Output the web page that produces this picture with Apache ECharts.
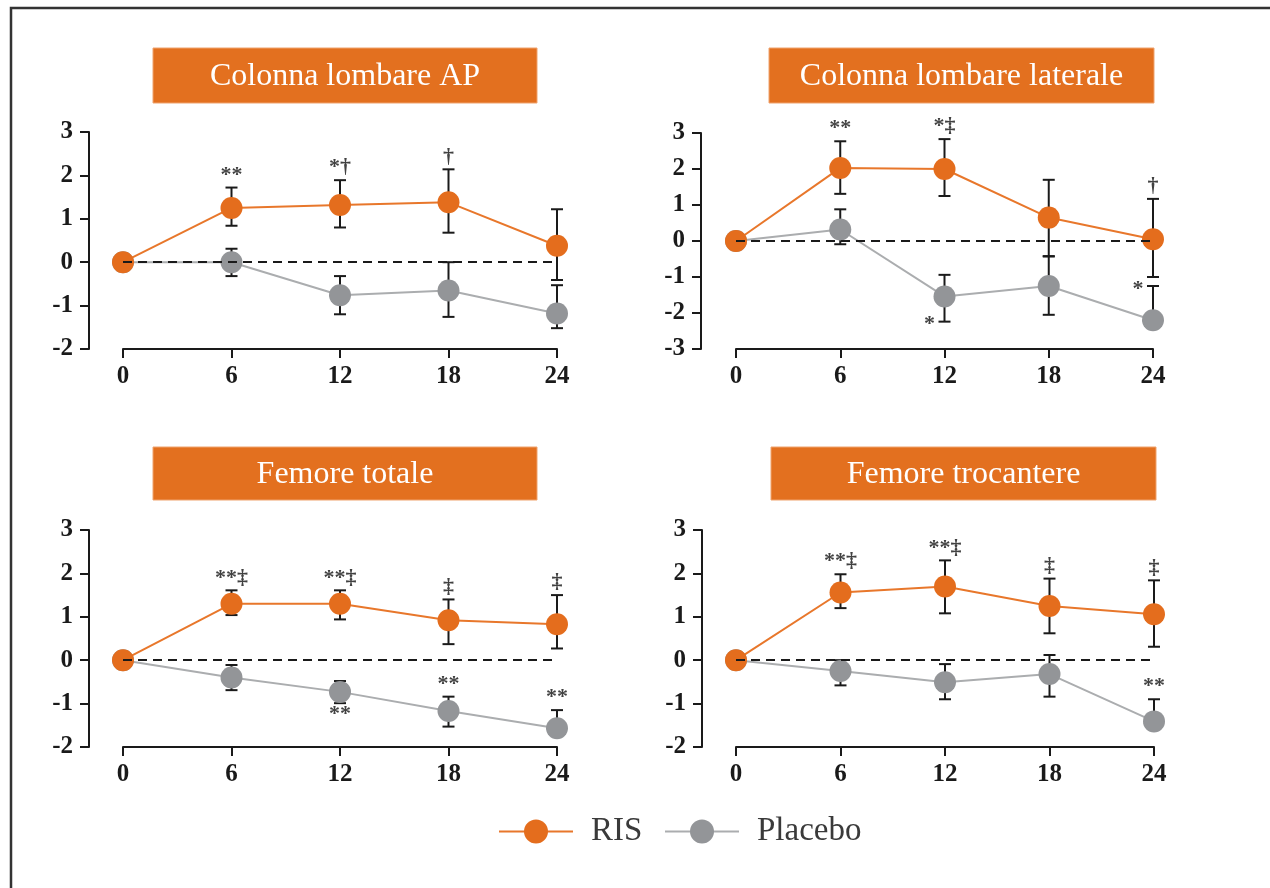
<!DOCTYPE html>
<html><head><meta charset="utf-8">
<script src="https://cdn.jsdelivr.net/npm/echarts@6/dist/echarts.min.js"></script>
<style>html,body{margin:0;padding:0;background:#fff}#c{width:1270px;height:888px}</style>
</head><body><div id="c"></div>
<script>
// ---------------- data ----------------
const months = [0, 6, 12, 18, 24];
const panelTitles = ['Colonna lombare AP', 'Colonna lombare laterale', 'Femore totale', 'Femore trocantere'];
const seriesNames = ['RIS', 'Placebo'];
const yMins = [-2, -3, -2, -2];
const yMaxs = [3, 3, 3, 3];

// Panel 1 – Colonna lombare AP
const p1RisMean = [0, 1.25, 1.32, 1.38, 0.38];
const p1RisHigh = [null, 1.72, 1.89, 2.14, 1.22];
const p1RisLow  = [null, 0.84, 0.80, 0.68, -0.41];
const p1PlaMean = [0, 0.0, -0.76, -0.65, -1.18];
const p1PlaHigh = [null, 0.31, -0.32, 0.0, -0.53];
const p1PlaLow  = [null, -0.32, -1.20, -1.26, -1.52];
const p1Notes = [['RIS', 1, 'top', '**'], ['RIS', 2, 'top', '*†'], ['RIS', 3, 'top', '†']];

// Panel 2 – Colonna lombare laterale
const p2RisMean = [0, 2.03, 2.0, 0.65, 0.05];
const p2RisHigh = [null, 2.77, 2.83, 1.70, 1.17];
const p2RisLow  = [null, 1.31, 1.25, -0.42, -1.0];
const p2PlaMean = [0, 0.32, -1.54, -1.25, -2.2];
const p2PlaHigh = [null, 0.88, -0.94, -0.43, -1.25];
const p2PlaLow  = [null, -0.09, -2.24, -2.05, -2.2];
const p2Notes = [['RIS', 1, 'top', '**'], ['RIS', 2, 'top', '*‡'], ['RIS', 4, 'top', '†'],
                 ['Placebo', 2, 'lowLeft', '*'], ['Placebo', 4, 'highLeft', '*']];

// Panel 3 – Femore totale
const p3RisMean = [0, 1.30, 1.30, 0.92, 0.83];
const p3RisHigh = [null, 1.61, 1.61, 1.40, 1.50];
const p3RisLow  = [null, 1.04, 0.94, 0.37, 0.27];
const p3PlaMean = [0, -0.40, -0.73, -1.17, -1.57];
const p3PlaHigh = [null, -0.11, -0.48, -0.84, -1.15];
const p3PlaLow  = [null, -0.69, -0.99, -1.53, -1.57];
const p3Notes = [['RIS', 1, 'top', '**‡'], ['RIS', 2, 'top', '**‡'], ['RIS', 3, 'top', '‡'], ['RIS', 4, 'top', '‡'],
                 ['Placebo', 2, 'bottom', '**'], ['Placebo', 3, 'top', '**'], ['Placebo', 4, 'top', '**']];

// Panel 4 – Femore trocantere
const p4RisMean = [0, 1.56, 1.70, 1.25, 1.06];
const p4RisHigh = [null, 1.98, 2.30, 1.88, 1.84];
const p4RisLow  = [null, 1.20, 1.08, 0.62, 0.31];
const p4PlaMean = [0, -0.25, -0.51, -0.32, -1.41];
const p4PlaHigh = [null, 0.0, -0.09, 0.12, -0.90];
const p4PlaLow  = [null, -0.58, -0.90, -0.84, -1.41];
const p4Notes = [['RIS', 1, 'top', '**‡'], ['RIS', 2, 'top', '**‡'], ['RIS', 3, 'top', '‡'], ['RIS', 4, 'top', '‡'],
                 ['Placebo', 4, 'top', '**']];

// ---------------- layout / style ----------------
const ORANGE = '#E46D1D', ORANGE_LINE = '#E8772B', GRAY = '#939598', GRAY_LINE = '#ABADAF', INK = '#1a1a1a';
const SERIF = '"Liberation Serif", "Times New Roman", serif';
const grids = [
  {left: 123, top: 132, width: 434, height: 217, yOffset: 34, box: [153, 48, 384, 55]},
  {left: 736, top: 133, width: 417, height: 216, yOffset: 35, box: [769, 48, 385, 55]},
  {left: 123, top: 530, width: 434, height: 217, yOffset: 34, box: [153, 447, 384, 53]},
  {left: 736, top: 530, width: 418, height: 217, yOffset: 34, box: [771, 447, 385, 53]}
];
const panels = [
  {ris: [p1RisMean, p1RisHigh, p1RisLow], pla: [p1PlaMean, p1PlaHigh, p1PlaLow], notes: p1Notes},
  {ris: [p2RisMean, p2RisHigh, p2RisLow], pla: [p2PlaMean, p2PlaHigh, p2PlaLow], notes: p2Notes},
  {ris: [p3RisMean, p3RisHigh, p3RisLow], pla: [p3PlaMean, p3PlaHigh, p3PlaLow], notes: p3Notes},
  {ris: [p4RisMean, p4RisHigh, p4RisLow], pla: [p4PlaMean, p4PlaHigh, p4PlaLow], notes: p4Notes}
];

const axisLineStyle = {color: INK, width: 2};
const tickLabel = {fontFamily: SERIF, fontWeight: 'bold', fontSize: 25, color: INK};

function errSeries(gi, arr, key) {
  const [mean, hi, lo] = arr;
  const data = [];
  months.forEach((m, i) => { if (hi[i] != null) data.push([m, mean[i], hi[i], lo[i]]); });
  return {
    type: 'custom', name: key + '-err' + gi, xAxisIndex: gi, yAxisIndex: gi, z: 1, silent: true,
    data: data,
    renderItem: function (params, api) {
      const x = api.value(0), m = api.value(1), h = api.value(2), l = api.value(3);
      const pm = api.coord([x, m]), ph = api.coord([x, h]), pl = api.coord([x, l]);
      const w = 6, st = {stroke: INK, lineWidth: 2};
      const ch = [];
      if (h > m) {
        ch.push({type: 'line', shape: {x1: pm[0], y1: pm[1], x2: ph[0], y2: ph[1]}, style: st});
        ch.push({type: 'line', shape: {x1: ph[0] - w, y1: ph[1], x2: ph[0] + w, y2: ph[1]}, style: st});
      }
      if (l < m) {
        ch.push({type: 'line', shape: {x1: pm[0], y1: pm[1], x2: pl[0], y2: pl[1]}, style: st});
        ch.push({type: 'line', shape: {x1: pl[0] - w, y1: pl[1], x2: pl[0] + w, y2: pl[1]}, style: st});
      }
      return {type: 'group', children: ch};
    }
  };
}

const xAxes = [], yAxes = [], gridOpts = [], series = [], graphics = [];
grids.forEach((g, gi) => {
  gridOpts.push({left: g.left, top: g.top, width: g.width, height: g.height, outerBoundsMode: 'none'});
  xAxes.push({
    type: 'value', gridIndex: gi, min: 0, max: 24, interval: 6,
    axisLine: {show: true, onZero: false, lineStyle: axisLineStyle},
    axisTick: {show: true, length: 9, lineStyle: axisLineStyle},
    axisLabel: Object.assign({margin: 15}, tickLabel),
    splitLine: {show: false}
  });
  yAxes.push({
    type: 'value', gridIndex: gi, min: yMins[gi], max: yMaxs[gi], interval: 1, offset: g.yOffset,
    axisLine: {show: true, onZero: false, lineStyle: axisLineStyle},
    axisTick: {show: true, length: 9, lineStyle: axisLineStyle},
    axisLabel: Object.assign({margin: 16}, tickLabel),
    splitLine: {show: false}
  });
  const p = panels[gi];
  const eR = errSeries(gi, p.ris, 'RIS');
  const eP = errSeries(gi, p.pla, 'Placebo');
  eP.markLine = {
    silent: true, symbol: 'none', animation: false,
    label: {show: false},
    lineStyle: {color: INK, width: 2, type: [9, 6]},
    data: [{yAxis: 0}]
  };
  series.push(eP, eR);
  series.push({
    type: 'line', name: seriesNames[1], xAxisIndex: gi, yAxisIndex: gi, z: 2,
    data: months.map((m, i) => [m, p.pla[0][i]]),
    symbol: 'circle', symbolSize: 22,
    lineStyle: {color: GRAY_LINE, width: 2},
    itemStyle: {color: GRAY},
    emphasis: {disabled: true}
  });
  series.push({
    type: 'line', name: seriesNames[0], xAxisIndex: gi, yAxisIndex: gi, z: 3,
    data: months.map((m, i) => [m, p.ris[0][i]]),
    symbol: 'circle', symbolSize: 22,
    lineStyle: {color: ORANGE_LINE, width: 2},
    itemStyle: {color: ORANGE},
    emphasis: {disabled: true}
  });
  // significance annotations tied to error-bar ends
  const noteData = p.notes.map(n => {
    const src = n[0] === 'RIS' ? p.ris : p.pla;
    const i = n[1], pos = n[2];
    const useHigh = (pos === 'top' || pos === 'highLeft');
    const yv = useHigh ? src[1][i] : src[2][i];
    let label;
    if (pos === 'top') label = {position: 'top', distance: 1};
    else if (pos === 'bottom') label = {position: 'bottom', distance: 0};
    else label = {position: 'left', distance: 9, offset: [0, 3]};
    return {value: [months[i], yv], name: n[3], label: label};
  });
  series.push({
    type: 'scatter', name: 'notes' + gi, xAxisIndex: gi, yAxisIndex: gi, z: 4, silent: true,
    symbolSize: 1, itemStyle: {color: 'rgba(0,0,0,0)'},
    data: noteData,
    label: {show: true, formatter: '{b}', fontFamily: SERIF, fontWeight: 'bold', fontSize: 22, color: '#111'}
  });
  // title box
  const b = g.box;
  graphics.push({type: 'rect', shape: {x: b[0], y: b[1], width: b[2], height: b[3]},
    style: {fill: '#E3701F', stroke: '#EFA36F', lineWidth: 1}, z: 10});
  graphics.push({type: 'text', x: b[0] + b[2] / 2, y: b[1] + b[3] / 2 + 1, z: 11,
    style: {text: panelTitles[gi], fill: '#ffffff', font: '32px ' + SERIF,
      align: 'center', verticalAlign: 'middle', textAlign: 'center', textVerticalAlign: 'middle'}});
});

// outer frame
graphics.push({type: 'rect', shape: {x: 11, y: 8, width: 1320, height: 920},
  style: {fill: 'none', stroke: '#333', lineWidth: 2.5}, z: 0});

const legendText = {fontFamily: SERIF, fontSize: 33, color: '#3a3a3a', padding: [0, 0, 0, 13]};
const option = {
  animation: false,
  backgroundColor: '#ffffff',
  grid: gridOpts,
  xAxis: xAxes,
  yAxis: yAxes,
  legend: [
    {data: [seriesNames[0]], left: 493, top: 810, itemWidth: 74, itemHeight: 30, selectedMode: false, textStyle: legendText},
    {data: [seriesNames[1]], left: 659, top: 810, itemWidth: 74, itemHeight: 30, selectedMode: false, textStyle: legendText}
  ],
  graphic: graphics,
  series: series
};
const chart = echarts.init(document.getElementById('c'), null, {renderer: 'canvas'});
chart.setOption(option);
</script></body></html>
